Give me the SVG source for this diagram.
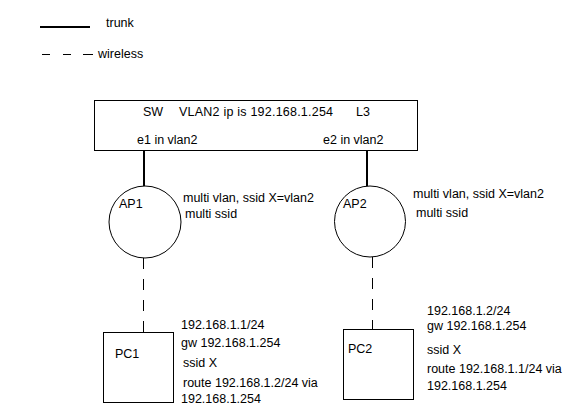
<svg xmlns="http://www.w3.org/2000/svg" width="573" height="415" viewBox="0 0 573 415">
<style>
text { font-family: "Liberation Sans", Arial, sans-serif; font-size: 12.5px; fill: #000; }
.box { fill: #fff; stroke: #000; stroke-width: 1; }
.trunk { stroke: #000; stroke-width: 2; fill: none; }
.wireless { stroke: #000; stroke-width: 1; stroke-dasharray: 11 10; fill: none; }
</style>
<rect width="573" height="415" fill="#fff"/>
<g id="legend">
<line class="trunk" x1="40" y1="27" x2="90" y2="27"/>
<text x="106" y="27">trunk</text>
<line x1="42" y1="54.5" x2="50" y2="54.5" stroke="#000" stroke-width="1"/>
<line x1="63" y1="54.5" x2="71" y2="54.5" stroke="#000" stroke-width="1"/>
<line x1="83" y1="54.5" x2="93" y2="54.5" stroke="#000" stroke-width="1"/>
<text x="98" y="58">wireless</text>
</g>
<g id="connectors">
<line class="trunk" x1="144" y1="150" x2="144" y2="186"/>
<line class="trunk" x1="367" y1="150" x2="367" y2="186"/>
<line class="wireless" x1="143.5" y1="258" x2="143.5" y2="332"/>
<line class="wireless" x1="372.5" y1="257" x2="372.5" y2="329"/>
</g>
<g id="SW">
<rect class="box" x="94.5" y="100.5" width="323" height="50"/>
<text x="143" y="116">SW</text>
<text x="179" y="116" textLength="154">VLAN2 ip is 192.168.1.254</text>
<text x="356" y="116">L3</text>
<text x="137" y="144">e1 in vlan2</text>
<text x="323" y="144">e2 in vlan2</text>
</g>
<g id="AP1">
<circle class="box" cx="145" cy="222" r="36"/>
<text x="119" y="208">AP1</text>
<text x="183" y="202">multi vlan, ssid X=vlan2</text>
<text x="185" y="218">multi ssid</text>
</g>
<g id="AP2">
<circle class="box" cx="370" cy="221.5" r="35.5"/>
<text x="343" y="208">AP2</text>
<text x="413" y="198">multi vlan, ssid X=vlan2</text>
<text x="416" y="217">multi ssid</text>
</g>
<g id="PC1">
<rect class="box" x="103.5" y="332.5" width="70" height="70"/>
<text x="115" y="358">PC1</text>
<text x="181" y="329">192.168.1.1/24</text>
<text x="181" y="347">gw 192.168.1.254</text>
<text x="183" y="367">ssid X</text>
<text x="183" y="387">route 192.168.1.2/24 via</text>
<text x="181" y="403">192.168.1.254</text>
</g>
<g id="PC2">
<rect class="box" x="343.5" y="329.5" width="70" height="70"/>
<text x="348" y="353">PC2</text>
<text x="427" y="315">192.168.1.2/24</text>
<text x="427" y="330">gw 192.168.1.254</text>
<text x="427" y="354">ssid X</text>
<text x="427" y="373">route 192.168.1.1/24 via</text>
<text x="427" y="390">192.168.1.254</text>
</g>
</svg>
